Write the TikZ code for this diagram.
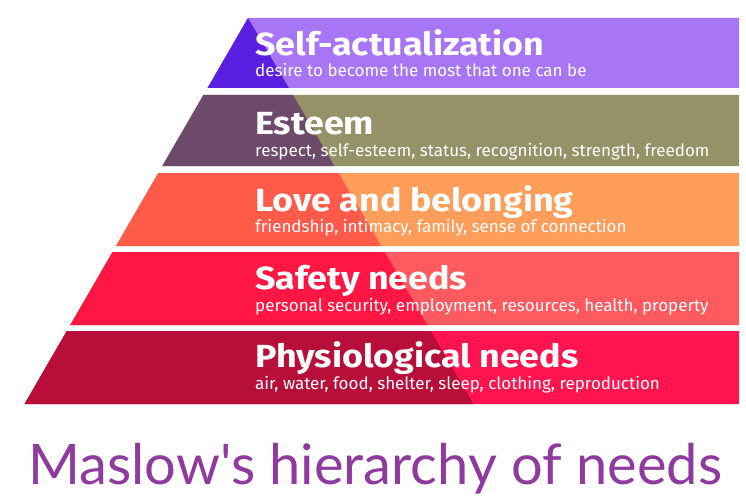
\documentclass[tikz,border=0pt]{standalone}
\usepackage{fontspec}
\setmainfont{Fira Sans}
\newfontfamily\titlefont{Lato}
\definecolor{c1d}{HTML}{5A1FE0}\definecolor{c1l}{HTML}{A875F7}
\definecolor{c2d}{HTML}{6E4A6A}\definecolor{c2l}{HTML}{969268}
\definecolor{c3d}{HTML}{FF5A4A}\definecolor{c3l}{HTML}{FF9E5A}
\definecolor{c4d}{HTML}{FF1744}\definecolor{c4l}{HTML}{FF5A60}
\definecolor{c5d}{HTML}{B80E3A}\definecolor{c5l}{HTML}{FF1450}
\definecolor{title}{HTML}{8E3A9E}
\begin{document}
\begin{tikzpicture}[x=1pt,y=-1pt,
  head/.style={anchor=base west,text=white,font=\fontsize{32}{33}\selectfont\bfseries\addfontfeatures{FakeStretch=1.12},inner sep=0},
  sub/.style={anchor=base west,text=white,font=\fontsize{17}{18}\selectfont,inner sep=0}]
\useasboundingbox[fill=white] (0,0) rectangle (746,500);
\def\band#1#2#3#4{%
  \pgfmathsetmacro\la{248-0.579*(#1-18)}\pgfmathsetmacro\lb{248-0.579*(#2-18)}%
  \pgfmathsetmacro\da{248+0.584*(#1-18)}\pgfmathsetmacro\db{248+0.584*(#2-18)}%
  \fill[#4] (\la,#1) -- (739,#1) -- (739,#2) -- (\lb,#2) -- cycle;
  \fill[#3] (\la,#1) -- (\da,#1) -- (\db,#2) -- (\lb,#2) -- cycle;}
\band{18}{88}{c1d}{c1l}
\band{95}{166}{c2d}{c2l}
\band{173}{246}{c3d}{c3l}
\band{252}{325}{c4d}{c4l}
\band{331}{404}{c5d}{c5l}
\node[head] (h1) at (255,56) {Self-actualization};
\node[sub] (s1) at (255,77) {desire to become the most that one can be};
\node[head] (h2) at (255,134) {Esteem};
\node[sub] (s2) at (255,156) {respect, self-esteem, status, recognition, strength, freedom};
\node[head] (h3) at (255,211) {Love and belonging};
\node[sub] (s3) at (255,232) {friendship, intimacy, family, sense of connection};
\node[head] (h4) at (255,289) {Safety needs};
\node[sub] (s4) at (255,311) {personal security, employment, resources, health, property};
\node[head] (h5) at (255,367) {Physiological needs};
\node[sub] (s5) at (255,389) {air, water, food, shelter, sleep, clothing, reproduction};
\node[anchor=base west,inner sep=0,text=title,font=\titlefont\fontsize{56}{58}\selectfont] (t) at (28,484) {Maslow's hierarchy of needs};
\end{tikzpicture}
\end{document}
